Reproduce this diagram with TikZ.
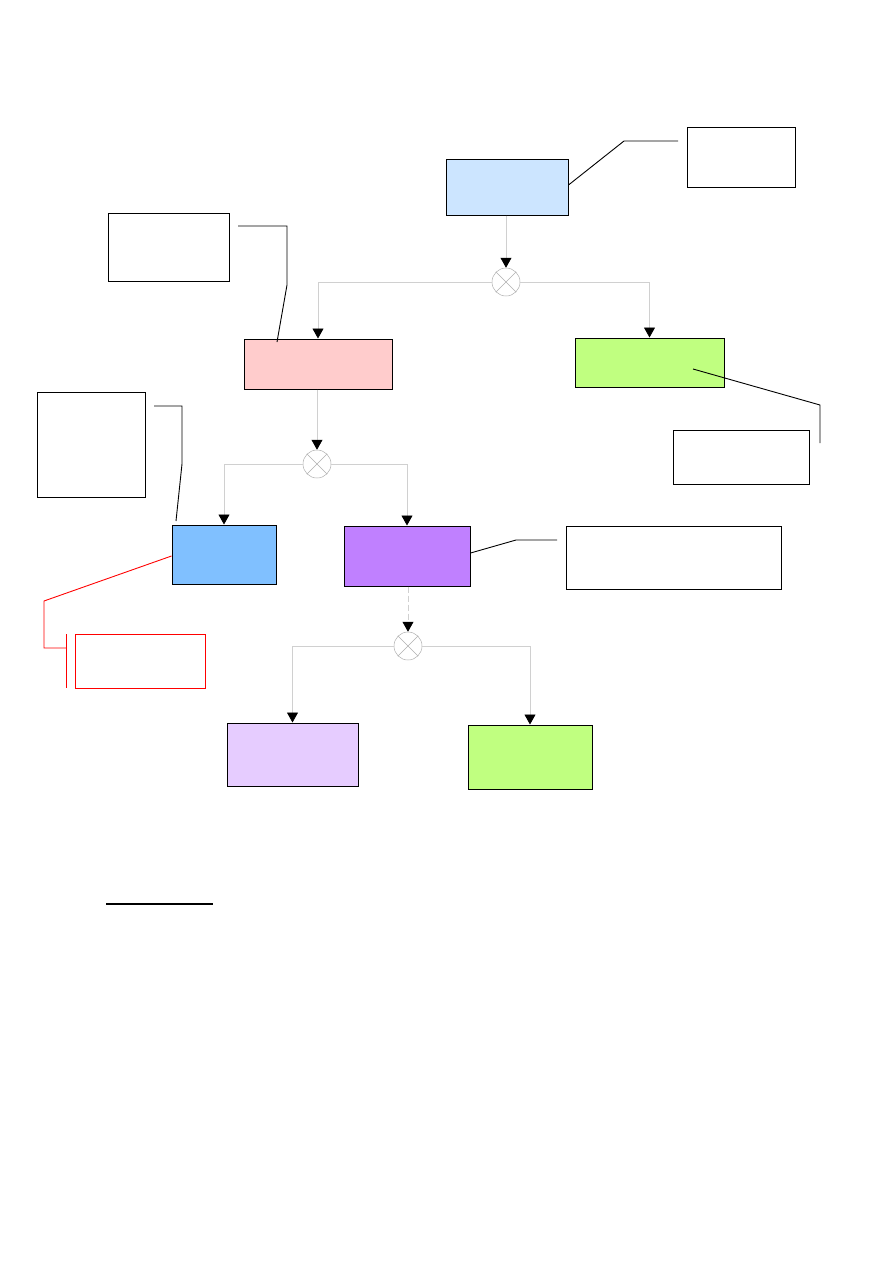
\documentclass[tikz,border=0pt]{standalone}
\usetikzlibrary{arrows.meta}
\definecolor{lblue}{HTML}{CCE5FF}
\definecolor{lpink}{HTML}{FFCCCC}
\definecolor{lgreen}{HTML}{C0FF80}
\definecolor{mblue}{HTML}{80C0FF}
\definecolor{mpurple}{HTML}{C080FF}
\definecolor{lpurple}{HTML}{E6CCFF}
\definecolor{flowgray}{HTML}{D0D0D0}
\definecolor{gategray}{HTML}{B0B0B0}
\begin{document}
\begin{tikzpicture}[x=1pt,y=-1pt,
  box/.style={draw=black,line width=1pt,rectangle,inner sep=0pt},
  note/.style={draw=black,line width=0.9pt,fill=white,rectangle,inner sep=0pt},
  rednote/.style={draw=red,line width=0.9pt,fill=white,rectangle,inner sep=0pt},
  gate/.style={draw=gategray,line width=0.5pt,circle,minimum size=28pt,inner sep=0pt},
  flow/.style={draw=flowgray,line width=0.8pt,-{Triangle[width=11pt,length=10pt,fill=black,color=black]}},
  branch/.style={draw=flowgray,line width=0.8pt},
  callout/.style={draw=black,line width=0.9pt},
  redcallout/.style={draw=red,line width=0.9pt}]
\useasboundingbox (0,0) rectangle (893,1263);
\fill[white] (0,0) rectangle (893,1263);

% main boxes
\node[box,fill=lblue,minimum width=122pt,minimum height=56pt] (top) at (507,187) {};
\node[box,fill=lpink,minimum width=148pt,minimum height=50pt] (pink) at (318,364) {};
\node[box,fill=lgreen,minimum width=149pt,minimum height=49pt] (gr1) at (649.5,362.5) {};
\node[box,fill=mblue,minimum width=104pt,minimum height=59pt] (blu) at (224,554.5) {};
\node[box,fill=mpurple,minimum width=126pt,minimum height=60pt] (pur) at (407,556) {};
\node[box,fill=lpurple,minimum width=131pt,minimum height=63pt] (lav) at (292.5,754.5) {};
\node[box,fill=lgreen,minimum width=124pt,minimum height=64pt] (gr2) at (530,757) {};

% notes
\node[note,minimum width=108pt,minimum height=60pt] (n1) at (741,157) {};
\node[note,minimum width=121pt,minimum height=68pt] (n2) at (168.5,247) {};
\node[note,minimum width=136pt,minimum height=54pt] (n3) at (741,457) {};
\node[note,minimum width=108pt,minimum height=105pt] (n4) at (91,444.5) {};
\node[note,minimum width=215pt,minimum height=63pt] (n5) at (673.5,557.5) {};
\node[rednote,minimum width=130pt,minimum height=54pt] (n6) at (140,661) {};

% gates
\node[gate] (g1) at (506,282) {};
\node[gate] (g2) at (317,464) {};
\node[gate] (g3) at (408,646) {};
\foreach \g in {g1,g2,g3}{
  \draw[gategray,line width=0.5pt] (\g.45) -- (\g.225) (\g.135) -- (\g.315);
}

% flows
\draw[flow] (top.south -| g1) -- (g1.north);
\draw[flow] (g1.west) -| (pink.north);
\draw[flow] (g1.east) -| (gr1.north);
\draw[flow] (pink.south -| g2) -- (g2.north);
\draw[flow] (g2.west) -| (blu.north);
\draw[flow] (g2.east) -| (pur.north);
\draw[flow,dash pattern=on 6pt off 3pt] (pur.south -| g3) -- (g3.north);
\draw[flow] (g3.west) -| (lav.north);
\draw[flow] (g3.east) -| (gr2.north);

% callouts
\coordinate (c1a) at (624,141);
\coordinate (c1b) at (678,141);
\draw[callout] (top.east |- 0,185) -- (c1a) -- (c1b);

\coordinate (c2a) at (238,226);
\coordinate (c2b) at (287,226);
\coordinate (c2c) at (287,285);
\coordinate (c2d) at (277,342);
\draw[callout] (c2a) -- (c2b) -- (c2c) -- (c2d);

\coordinate (c3a) at (693,369);
\coordinate (c3b) at (820,405);
\coordinate (c3c) at (820,443);
\draw[callout] (c3a) -- (c3b) -- (c3c);

\coordinate (c4a) at (154,406);
\coordinate (c4b) at (182,406);
\coordinate (c4c) at (182,464);
\coordinate (c4d) at (176,521);
\draw[callout] (c4a) -- (c4b) -- (c4c) -- (c4d);

\coordinate (c5a) at (516,540);
\coordinate (c5b) at (557,540);
\draw[callout] (pur.east |- 0,553) -- (c5a) -- (c5b);

\coordinate (c6a) at (44,601);
\coordinate (c6b) at (44,648);
\coordinate (c6c) at (66,648);
\coordinate (c6t) at (66,634);
\coordinate (c6u) at (66,688);
\draw[redcallout] (blu.west |- 0,556) -- (c6a) -- (c6b) -- (c6c);
\draw[redcallout] (c6t) -- (c6u);

% underline
\coordinate (u1) at (106,904);
\coordinate (u2) at (213,904);
\draw[black,line width=1.6pt] (u1) -- (u2);
\end{tikzpicture}
\end{document}
